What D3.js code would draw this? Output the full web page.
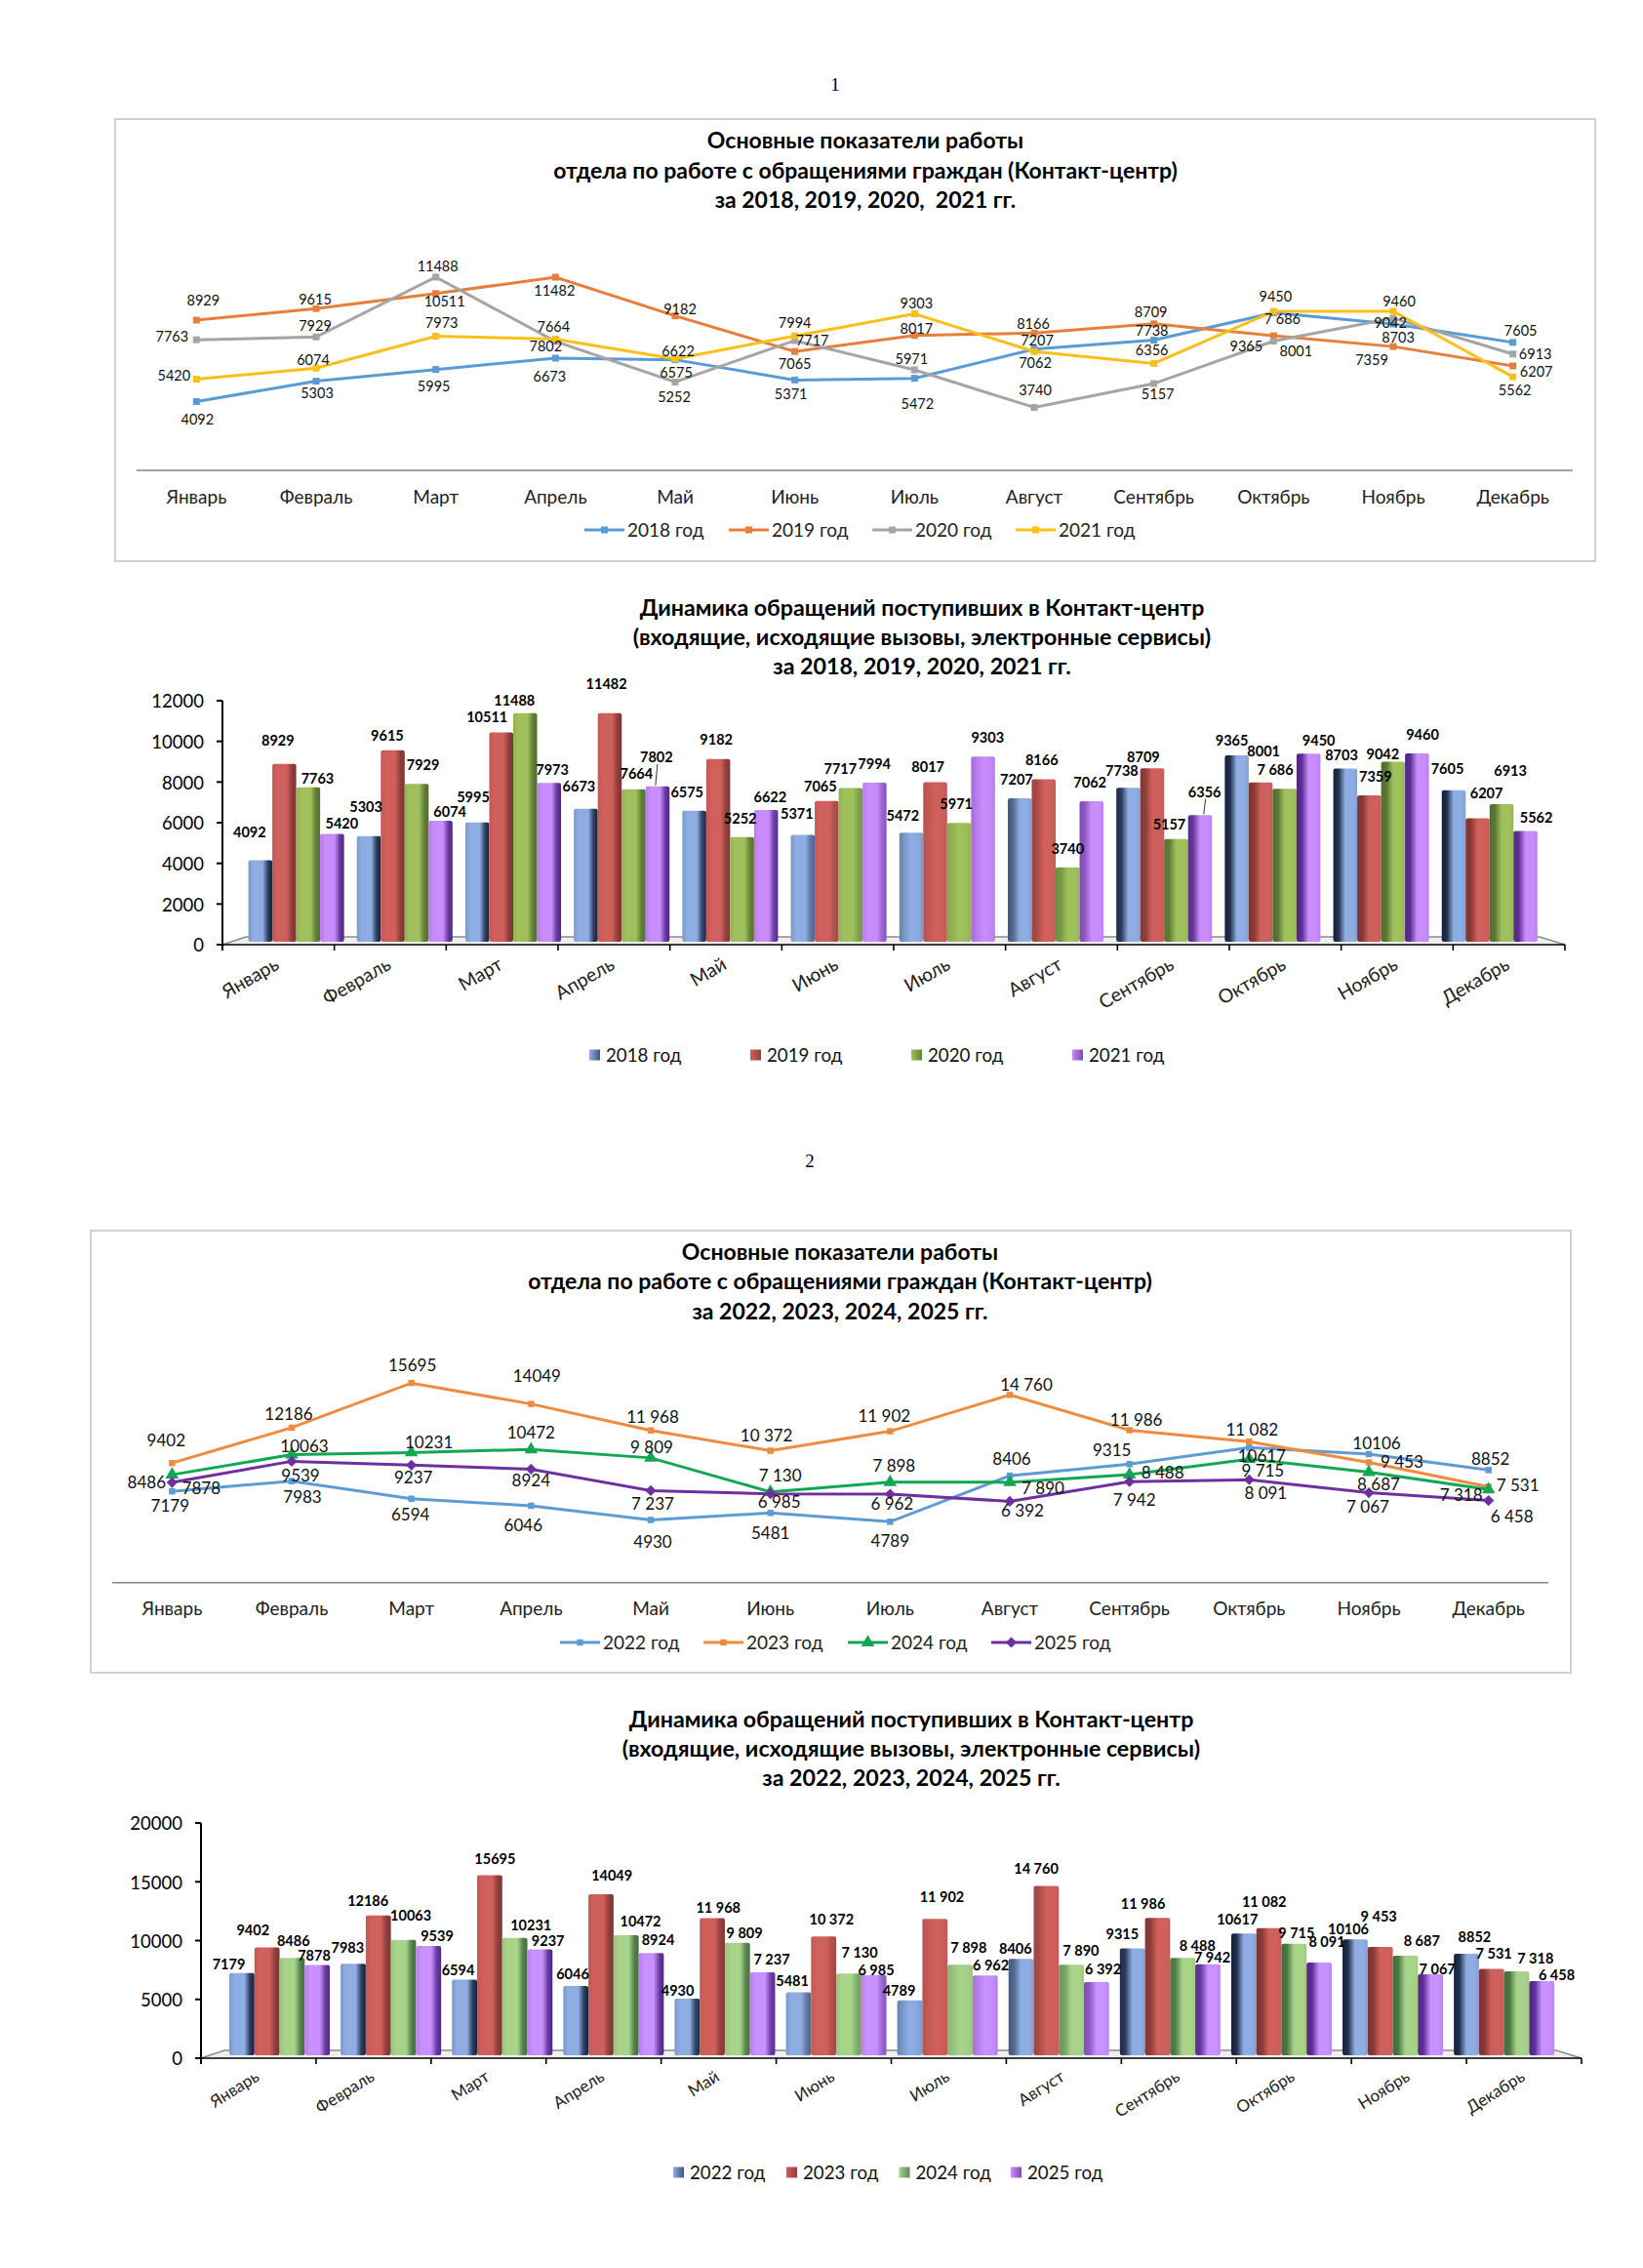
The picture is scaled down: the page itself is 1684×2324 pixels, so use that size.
<!DOCTYPE html>
<html lang="ru"><head><meta charset="utf-8">
<script src="https://cdn.jsdelivr.net/npm/d3@7"></script>
<style>html,body{margin:0;padding:0;background:#fff}svg{display:block}text{white-space:pre}</style>
</head><body><svg id="page" width="1684" height="2324"></svg>
<script>
const months=["Январь","Февраль","Март","Апрель","Май","Июнь","Июль","Август","Сентябрь","Октябрь","Ноябрь","Декабрь"];
const yearsA=["2018 год","2019 год","2020 год","2021 год"];
const yearsB=["2022 год","2023 год","2024 год","2025 год"];
const v2018=[4092,5303,5995,6673,6575,5371,5472,7207,7738,9365,8703,7605];
const v2019=[8929,9615,10511,11482,9182,7065,8017,8166,8709,8001,7359,6207];
const v2020=[7763,7929,11488,7664,5252,7717,5971,3740,5157,7686,9042,6913];
const v2021=[5420,6074,7973,7802,6622,7994,9303,7062,6356,9450,9460,5562];
const v2022=[7179,7983,6594,6046,4930,5481,4789,8406,9315,10617,10106,8852];
const v2023=[9402,12186,15695,14049,11968,10372,11902,14760,11986,11082,9453,7531];
const v2024=[8486,10063,10231,10472,9809,7130,7898,7890,8488,9715,8687,7318];
const v2025=[7878,9539,9237,8924,7237,6985,6962,6392,7942,8091,7067,6458];
const ticksA=[0,2000,4000,6000,8000,10000,12000];
const ticksB=[0,5000,10000,15000,20000];
const titleLine1=["Основные показатели работы","отдела по работе с обращениями граждан (Контакт-центр)","за 2018, 2019, 2020,  2021 гг."];
const titleBar1=["Динамика обращений поступивших в Контакт-центр","(входящие, исходящие вызовы, электронные сервисы)","за 2018, 2019, 2020, 2021 гг."];
const titleLine2=["Основные показатели работы","отдела по работе с обращениями граждан (Контакт-центр)","за 2022, 2023, 2024, 2025 гг."];
const titleBar2=["Динамика обращений поступивших в Контакт-центр","(входящие, исходящие вызовы, электронные сервисы)","за 2022, 2023, 2024, 2025 гг."];
// Which months print with a thousands gap, per series: [first,last]
const gapA=[null,null,[9,9],null];
const gapB=[null,[4,11],[4,11],[4,11]];
// Hand placed label offsets in pixels, per series and month
const line1DX=[[1,1,-2,-6,1,-4,3,3,-2,-28,5,8],[7,-1,9,-1,5,0,2,-1,-3,23,-22,24],[-25,-1,2,-2,-1,18,-3,1,4,9,-3,23],[-23,-3,6,-10,3,0,2,1,-2,2,6,2]];
const line1DY=[[18.5,12.4,17,18.7,13,14.9,26,-8.4,-9.9,34.5,14,-12.2],[-20.4,-9.6,7.9,13.6,-7,12.5,-7.1,-8.9,-12.2,16.3,13.5,5.7],[-3.2,-11.6,-11.3,-15.2,15.2,.4,-11.4,-17.9,11.2,-22.5,5.2,0],[-3.9,-8,-13.9,7.5,-7.5,-12.9,-10.3,11.4,-13.4,-15.4,-9.6,13.9]];
const bar1DX=[[-11,-2.9,-4.2,-7,-7.4,-6,-8.7,-3.3,-6.5,-5,-3.8,-6.5],[-6.5,-5.6,-14.5,-3.3,-2,-6.5,-7.4,-2,-9,3,6.5,9],[9.6,6.5,-11,2.9,-2,-10.5,-2.9,0,-7,-9.6,-10.5,9],[10,9.6,3.3,-1.1,4.2,-.2,4.7,-1.6,4.7,10.5,5.6,11]];
const bar1DY=[[-28.5,-29.8,-25.7,-22.9,-19.2,-21.4,-17.4,-19,-17.5,-15.3,-13.8,-22],[-24.2,-15.2,-15.9,-30,-20,-15.2,-15.8,-19.7,-11.7,-31.8,-19.2,-25.7],[-9,-19.6,-12.3,-15.3,-19.2,-19.2,-19.2,-19,-15.1,-19.5,-7.2,-34],[-10.4,-8.8,-13.3,-29.8,-12.9,-19.3,-19.6,-19.3,-23.7,-13.6,-19.3,-13.5]];
const line2DX=[[-2,11,-1,-8,2,0,0,2,-18,13,8,2],[-6,-3,1,6,2,-4,-6,17,7,3,34,30],[-26,13,18,0,1,10,4,34,34,14,10,-28],[30,9,2,0,2,9,2,13,5,17,-1,24]];
const line2DY=[[14.6,16,15.9,19.8,22.3,20.4,20,-17,-14.3,9,-10.6,-11.3],[-23.5,-14.2,-18.1,-28.9,-14,-15.8,-15.9,-10.3,-10.8,-12.2,0,-1.8],[7.6,-8.8,-10.3,-17.2,-10.8,-17,-16.7,6.2,-1.7,11.6,12.2,6],[6,14.7,12.7,11.7,14,8.7,10.4,9.3,18.5,13.4,14.1,16.2]];
const bar2DX=[[-13.4,-5.7,-6.6,-3.2,-9.7,-6.3,-11,-5.8,-10.4,-6.5,-6.9,8.4],[-14.4,-10.6,5.5,11.2,6.1,8.1,7.2,-10.3,-14.9,-4.9,-1.5,2.4],[1.3,7.6,16.6,14.8,7.3,11.2,8.8,9.8,15,2.5,16.8,19.2],[-3.2,8.7,8.3,7,9.4,2.3,5.8,6.7,4.5,7.9,7,15.2]];
const bar2DY=[[-8.5,-16.4,-9.7,-12.2,-8,-11.5,-9.6,-10.4,-14.7,-14,-10,-17.2],[-17.4,-14.9,-16.7,-19,-10.5,-17.3,-22,-17.7,-14.3,-26.9,-31.1,-15.4],[-17.5,-24.6,-12.6,-14.1,-9.9,-21.1,-17,-14.8,-12.8,-10.7,-15.1,-12.6],[-9.6,-10.1,-8.6,-13.3,-13.5,-5.5,-10,-13.1,-6.5,-20.8,-5.2,-6.3]];

const FONT="Lato, 'Noto Sans', sans-serif";
const svg=d3.select("#page").attr("font-family",FONT);
const defs=svg.append("defs");
const fmt=(v,gap,i)=>{const s=String(v);return gap&&i>=gap[0]&&i<=gap[1]?s.slice(0,-3)+" "+s.slice(-3):s;};

function title(lines,cx,ys,size){
  svg.append("g").attr("text-anchor","middle").attr("font-weight",700).attr("font-size",size)
   .selectAll("text").data(lines).join("text").attr("x",cx).attr("y",(d,i)=>ys[i]).attr("dy",".35em").text(d=>d);
}
function lineChart(c){
  const g=svg.append("g");
  g.append("rect").attr("x",c.frame[0]).attr("y",c.frame[1]).attr("width",c.frame[2]-c.frame[0]).attr("height",c.frame[3]-c.frame[1]).attr("fill","#fff").attr("stroke","#d0d0d0").attr("stroke-width",2);
  const x=d3.scaleBand().domain(d3.range(12)).range(c.xr);
  const cx=i=>x(i)+x.bandwidth()/2;
  const y=d3.scaleLinear().domain(c.yd).range(c.yr);
  g.append("line").attr("x1",c.xr[0]).attr("x2",c.xr[1]).attr("y1",y(0)).attr("y2",y(0)).attr("stroke","#868686").attr("stroke-width",1.5);
  g.selectAll("text.m").data(months).join("text").attr("class","m").attr("x",(d,i)=>cx(i)).attr("y",c.catY).attr("dy",".35em").attr("text-anchor","middle").attr("font-size",c.catSize).attr("fill","#222").text(d=>d);
  const ln=d3.line().x((d,i)=>cx(i)).y(d=>y(d));
  c.series.forEach((s,k)=>{
    g.append("path").attr("d",ln(s)).attr("fill","none").attr("stroke",c.colors[k]).attr("stroke-width",3);
    const sym=d3.symbol().type(c.symbols[k]).size(c.symSize[k]);
    g.selectAll(null).data(s).join("path").attr("d",sym).attr("fill",c.colors[k]).attr("transform",(d,i)=>`translate(${cx(i)},${y(d)})`);
  });
  c.series.forEach((s,k)=>{
    g.selectAll(null).data(s).join("text").attr("x",(d,i)=>cx(i)+c.dx[k][i]).attr("y",(d,i)=>y(d)+c.dy[k][i]).attr("dy",".35em").attr("text-anchor","middle").attr("font-size",c.lblSize).attr("fill","#111").text((d,i)=>fmt(d,c.gap[k],i));
  });
  c.legendX.forEach((lx,k)=>{
    const lg=g.append("g").attr("transform",`translate(${lx},${c.legendY})`);
    lg.append("line").attr("x1",0).attr("x2",41).attr("stroke",c.colors[k]).attr("stroke-width",3);
    lg.append("path").attr("d",d3.symbol().type(c.symbols[k]).size(c.symSize[k])).attr("fill",c.colors[k]).attr("transform","translate(20.5,0)");
    lg.append("text").attr("x",44).attr("dy",".35em").attr("font-size",c.legSize).attr("fill","#222").text(c.legend[k]);
  });
}
function barChart(c){
  const g=svg.append("g");
  const xa=d3.scaleBand().domain(d3.range(12)).range(c.axisX);
  const ya=d3.scaleLinear().domain(c.yd).range(c.axisY);
  const xb=d3.scaleBand().domain(d3.range(12)).range(c.barX).paddingInner(c.padI).paddingOuter(c.padI/2);
  const xs=d3.scaleBand().domain(d3.range(4)).range([0,xb.bandwidth()]);
  const yb=d3.scaleLinear().domain(c.yd).range(c.barY);
  const fl=yb(0)-5, xL=c.axisX[0], xR=c.axisX[1], y0=ya(0);
  g.append("path").attr("d",d3.line()([[xL,y0],[xL+24,fl],[xR-26,fl],[xR,y0]])).attr("fill","#efefef").attr("stroke","#8c8c8c").attr("stroke-width",1.5);
  c.series.forEach((s,k)=>{
    s.forEach((v,i)=>{
      const t=(i-5.5)/5.5, id=`${c.id}s${k}m${i}`;
      const col=d3.interpolateRgb(c.light[k],c.dark[k]);
      const L=Math.min(1,Math.max(0,t)*2), R=t<0?Math.min(1,-t*2.5+.25):Math.max(0,.15-t);
      const p=c.shade[k];
      const gr=defs.append("linearGradient").attr("id",id);
      [[0,.15+.8*L],[.22,.85*L],[.5,0],[.6,0],[.82,.75*R],[1,.1+.85*R]].forEach(o=>gr.append("stop").attr("offset",o[0]).attr("stop-color",col(o[1]*p)));
      g.append("rect").attr("x",xb(i)+xs(k)).attr("y",yb(v)).attr("width",xs.bandwidth()).attr("height",yb(0)-yb(v)).attr("rx",2).attr("fill",`url(#${id})`);
    });
  });
  const ax=g.append("g").attr("stroke","#000").attr("stroke-width",2);
  ax.append("line").attr("x1",xL).attr("x2",xL).attr("y1",ya(c.yd[1])).attr("y2",y0+6);
  ax.append("line").attr("x1",xL).attr("x2",xR).attr("y1",y0).attr("y2",y0).attr("stroke-width",1.6);
  ax.selectAll(null).data(c.ticks).join("line").attr("x1",xL-6).attr("x2",xL).attr("y1",d=>ya(d)).attr("y2",d=>ya(d));
  ax.selectAll(null).data(d3.range(13)).join("line").attr("x1",d=>c.axisX[0]+d*xa.step()).attr("x2",d=>c.axisX[0]+d*xa.step()).attr("y1",y0).attr("y2",y0+6).attr("stroke-width",1.6);
  g.selectAll(null).data(c.ticks).join("text").attr("x",xL-19).attr("y",d=>ya(d)+1).attr("dy",".35em").attr("text-anchor","end").attr("font-size",c.tickSize).text(d=>d);
  g.selectAll(null).data(months).join("text").attr("text-anchor","end").attr("font-size",c.catSize).attr("fill","#222").attr("transform",(d,i)=>`translate(${xa(i)+xa.bandwidth()/2+c.catDX},${c.catY}) rotate(${c.catRot})`).text(d=>d);
  c.series.forEach((s,k)=>{
    g.selectAll(null).data(s).join("text").attr("x",(d,i)=>xb(i)+xs(k)+xs.bandwidth()/2+c.dx[k][i]).attr("y",(d,i)=>yb(d)+c.dy[k][i]).attr("dy",".35em").attr("text-anchor","middle").attr("font-size",c.lblSize).attr("font-weight",700).attr("fill","#000").text((d,i)=>fmt(d,c.gap[k],i));
  });
  (c.leaders||[]).forEach(([k,i])=>{
    const px=xb(i)+xs(k)+xs.bandwidth()/2, v=c.series[k][i];
    g.append("line").attr("x1",px+c.dx[k][i]+1).attr("x2",px+c.dx[k][i]-1).attr("y1",yb(v)+c.dy[k][i]+7).attr("y2",yb(v)-1).attr("stroke","#333").attr("stroke-width",1);
  });
  c.legendX.forEach((lx,k)=>{
    const id=`${c.id}leg${k}`;
    const gr=defs.append("linearGradient").attr("id",id);
    gr.append("stop").attr("offset",0).attr("stop-color",c.light[k]);
    gr.append("stop").attr("offset",1).attr("stop-color",d3.interpolateRgb(c.light[k],c.dark[k])(.6));
    g.append("rect").attr("x",lx).attr("y",c.legendY-5.5).attr("width",11).attr("height",11).attr("fill",`url(#${id})`);
    g.append("text").attr("x",lx+17).attr("y",c.legendY).attr("dy",".35em").attr("font-size",c.legSize).attr("fill","#111").text(c.legend[k]);
  });
}
const pageNums=[["1",856,86],["2",830,1189]];
svg.selectAll("text.pn").data(pageNums).join("text").attr("class","pn").attr("x",d=>d[1]).attr("y",d=>d[2]).attr("dy",".35em").attr("text-anchor","middle").attr("font-family","'Liberation Serif',serif").attr("font-size",19).text(d=>d[0]);

lineChart({frame:[118,122,1635,575],xr:[140,1612],yd:[0,12000],yr:[482,482-206.9],catY:509,catSize:19,legSize:19,lblSize:14.5,
 series:[v2018,v2019,v2020,v2021],colors:["#5b9bd5","#e67e3c","#a5a5a5","#fbbf1a"],symbols:[d3.symbolSquare,d3.symbolSquare,d3.symbolSquare,d3.symbolSquare],symSize:[49,49,49,49],
 dx:line1DX,dy:line1DY,gap:gapA,legend:yearsA,legendX:[599,747,894,1041],legendY:543});
title(titleLine1,887,[144,175,205],23);

barChart({id:"b1",axisX:[228,1604],axisY:[968,718],barX:[248,248+111.2*12],barY:[965,720.2],yd:[0,12000],ticks:ticksA,padI:.118,
 series:[v2018,v2019,v2020,v2021],light:["#8eaee3","#d0605c","#9fc05c","#c88cfb"],dark:["#0f1a33","#6b2a28","#3f5a24","#4a1f80"],shade:[1,.85,.85,1],
 tickSize:18.5,catSize:19.5,catRot:-30,catDX:2,catY:992,lblSize:14.5,dx:bar1DX,dy:bar1DY,gap:gapA,leaders:[[3,3],[3,8]],
 legend:yearsA,legendX:[604,769,934,1099],legendY:1081,legSize:18.7});
title(titleBar1,945,[623,653,683],23.2);

lineChart({frame:[93,1261,1610,1714],xr:[115,1587],yd:[0,16000],yr:[1621.7,1621.7-208.5],catY:1648,catSize:19,legSize:19,lblSize:17,
 series:[v2022,v2023,v2024,v2025],colors:["#5f9bd3","#ed8b3f","#13a653","#6f2f9f"],symbols:[d3.symbolSquare,d3.symbolSquare,d3.symbolTriangle,d3.symbolDiamond2],symSize:[42,42,80,80],
 dx:line2DX,dy:line2DY,gap:gapB,legend:yearsB,legendX:[574,721,869,1016],legendY:1683});
title(titleLine2,861,[1283,1313,1344],23);

barChart({id:"b2",axisX:[206,1621],axisY:[2109,1868],barX:[229.5,229.5+114.1*12],barY:[2106,1871],yd:[0,20000],ticks:ticksB,padI:.097,
 series:[v2022,v2023,v2024,v2025],light:["#8eaee3","#d0605c","#a8d48a","#c990ff"],dark:["#0f1a33","#6b2a28","#2f5a30","#4a1f80"],shade:[1,.85,.9,1],
 tickSize:18.5,catSize:17,catRot:-32,catDX:2,catY:2131,lblSize:14.5,dx:bar2DX,dy:bar2DY,gap:gapB,
 legend:yearsB,legendX:[690,806,921.5,1036],legendY:2226,legSize:18.7});
title(titleBar2,934,[1762,1792,1822],23.2);
</script></body></html>
